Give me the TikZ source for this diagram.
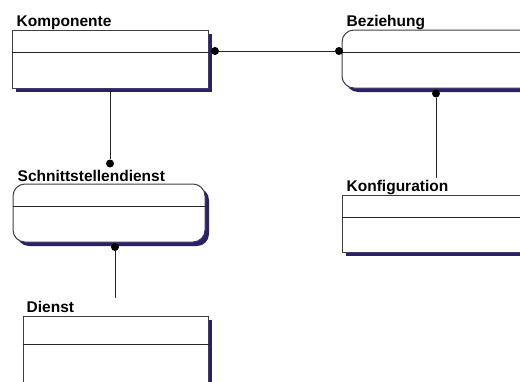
\documentclass[tikz,border=0pt]{standalone}
\usepackage{fontspec}
\setmainfont{Liberation Sans}
\usetikzlibrary{positioning}
\usetikzlibrary{shadows}
\definecolor{shadownavy}{HTML}{2B1F6E}

\begin{document}
\begin{tikzpicture}[x=1pt, y=-1pt,
  entity/.style={draw=black!75, fill=white, line width=1pt, minimum width=196pt, minimum height=58pt, inner sep=0pt,
    drop shadow={shadow xshift=4pt, shadow yshift=-4pt, fill=shadownavy, opacity=1}},
  rel/.style={entity, rounded corners=12pt},
  title/.style={font=\fontsize{15.5}{18}\selectfont\bfseries, inner sep=0pt},
  dot/.style={circle, fill=black, inner sep=0pt, minimum size=8pt},
  divider/.style={draw=black!85, line width=1pt},
  link/.style={draw=black!85, line width=0.9pt}]
            \useasboundingbox (0,0) rectangle (520,381);

            % boxes
            \node[entity] (komp) at (110,59) {};
            \node[rel] (bez) at (440,59) {};
            \node[entity, minimum height=57pt] (konf) at (440,223.5) {};
            \node[rel, minimum width=192pt] (schn) at (109,213) {};
            \node[entity, minimum width=185pt, minimum height=70pt] (dienst) at (115.5,351) {};

            % titles
            \node[title, above right=3pt and 5pt of komp.north west, anchor=base west] (kompT) {Komponente};
            \node[title, above right=3pt and 5pt of bez.north west, anchor=base west] (bezT) {Beziehung};
            \node[title, above right=3pt and 5pt of konf.north west, anchor=base west] (konfT) {Konfiguration};
            \node[title, above right=2pt and 5pt of schn.north west, anchor=base west] (schnT) {Schnittstellendienst};
            \node[title, above right=3pt and 4pt of dienst.north west, anchor=base west] (dienstT) {Dienst};

            % dividers
            \draw[divider] ([yshift=-23pt]komp.north west) -- ([yshift=-23pt]komp.north east);
            \draw[divider] ([yshift=-23pt]bez.north west) -- ([yshift=-23pt]bez.north east);
            \draw[divider] ([yshift=-23pt]konf.north west) -- ([yshift=-23pt]konf.north east);
            \draw[divider] ([yshift=-23pt]schn.north west) -- ([yshift=-23pt]schn.north east);
            \draw[divider] ([yshift=-29pt]dienst.north west) -- ([yshift=-29pt]dienst.north east);

            % dots and free ends
            \node[dot] (kompR) at (215,51) {};
            \node[dot] (bezL) at (339,51) {};
            \node[dot] (schnTop) at (110,163.5) {};
            \node[dot] (bezB) at (436,93.5) {};
            \node[dot] (schnB) at (115,247) {};
            \coordinate (konfTop) at (436,178);
            \coordinate (dienstTop) at (115,298);

            % connectors
            \draw[link] (kompR) -- (bezL);
            \draw[link] (komp.south) -- (schnTop);
            \draw[link] (bezB) -- (konfTop);
            \draw[link] (schnB) -- (dienstTop);
        \end{tikzpicture}
\end{document}
